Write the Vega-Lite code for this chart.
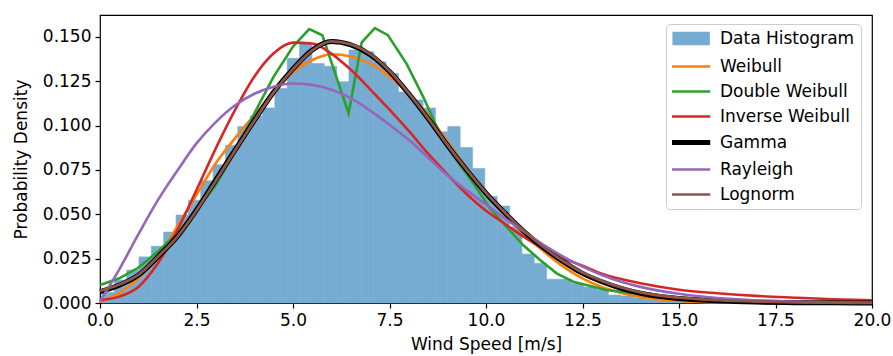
{
  "$schema": "https://vega.github.io/schema/vega-lite/v6.json",
  "width": 772,
  "height": 288,
  "autosize": {"type": "none"},
  "padding": {"left": 100, "top": 15, "right": 21, "bottom": 53},
  "background": "white",
  "config": {
    "font": "DejaVu Sans",
    "view": {"stroke": "#000000", "strokeWidth": 1.2},
    "axis": {
      "grid": false,
      "domain": false,
      "labelFlush": false,
      "labelOverlap": false,
      "tickColor": "#000000",
      "tickSize": 5,
      "tickWidth": 1.2,
      "labelColor": "#000000",
      "labelFontSize": 17,
      "labelFont": "DejaVu Sans",
      "titleColor": "#000000",
      "titleFontSize": 17,
      "titleFont": "DejaVu Sans",
      "titleFontWeight": "normal"
    }
  },
  "datasets": {
    "hist": [
      {"x0": 0.05, "x1": 0.37, "d": 0.006},
      {"x0": 0.37, "x1": 0.69, "d": 0.013},
      {"x0": 0.69, "x1": 1.01, "d": 0.0186},
      {"x0": 1.01, "x1": 1.33, "d": 0.026},
      {"x0": 1.33, "x1": 1.65, "d": 0.032},
      {"x0": 1.65, "x1": 1.97, "d": 0.040},
      {"x0": 1.97, "x1": 2.29, "d": 0.0496},
      {"x0": 2.29, "x1": 2.61, "d": 0.058},
      {"x0": 2.61, "x1": 2.93, "d": 0.069},
      {"x0": 2.93, "x1": 3.25, "d": 0.078},
      {"x0": 3.25, "x1": 3.57, "d": 0.089},
      {"x0": 3.57, "x1": 3.89, "d": 0.0995},
      {"x0": 3.89, "x1": 4.21, "d": 0.1055},
      {"x0": 4.21, "x1": 4.53, "d": 0.110},
      {"x0": 4.53, "x1": 4.85, "d": 0.121},
      {"x0": 4.85, "x1": 5.17, "d": 0.138},
      {"x0": 5.17, "x1": 5.49, "d": 0.1465},
      {"x0": 5.49, "x1": 5.81, "d": 0.135},
      {"x0": 5.81, "x1": 6.13, "d": 0.1335},
      {"x0": 6.13, "x1": 6.45, "d": 0.1248},
      {"x0": 6.45, "x1": 6.77, "d": 0.1427},
      {"x0": 6.77, "x1": 7.09, "d": 0.1417},
      {"x0": 7.09, "x1": 7.41, "d": 0.136},
      {"x0": 7.41, "x1": 7.73, "d": 0.1295},
      {"x0": 7.73, "x1": 8.05, "d": 0.119},
      {"x0": 8.05, "x1": 8.37, "d": 0.1145},
      {"x0": 8.37, "x1": 8.69, "d": 0.110},
      {"x0": 8.69, "x1": 9.01, "d": 0.0965},
      {"x0": 9.01, "x1": 9.33, "d": 0.0995},
      {"x0": 9.33, "x1": 9.65, "d": 0.0877},
      {"x0": 9.65, "x1": 9.97, "d": 0.0758},
      {"x0": 9.97, "x1": 10.29, "d": 0.060},
      {"x0": 10.29, "x1": 10.61, "d": 0.0547},
      {"x0": 10.61, "x1": 10.93, "d": 0.043},
      {"x0": 10.93, "x1": 11.25, "d": 0.0276},
      {"x0": 11.25, "x1": 11.57, "d": 0.0224},
      {"x0": 11.57, "x1": 11.89, "d": 0.0134},
      {"x0": 11.89, "x1": 12.21, "d": 0.0134},
      {"x0": 12.21, "x1": 12.53, "d": 0.011},
      {"x0": 12.53, "x1": 12.85, "d": 0.009},
      {"x0": 12.85, "x1": 13.17, "d": 0.0075},
      {"x0": 13.17, "x1": 13.49, "d": 0.0045},
      {"x0": 13.49, "x1": 13.81, "d": 0.004},
      {"x0": 13.81, "x1": 14.13, "d": 0.003},
      {"x0": 14.13, "x1": 14.45, "d": 0.002},
      {"x0": 14.45, "x1": 14.77, "d": 0.0015},
      {"x0": 14.77, "x1": 15.09, "d": 0.001},
      {"x0": 15.09, "x1": 15.41, "d": 0.0008},
      {"x0": 15.41, "x1": 15.73, "d": 0.0005},
      {"x0": 15.73, "x1": 16.05, "d": 0.0003}
    ],
    "curves": [
      {"s": "Weibull", "x": 0, "y": 0.0007},
      {"s": "Weibull", "x": 0.5, "y": 0.0056},
      {"s": "Weibull", "x": 1, "y": 0.014},
      {"s": "Weibull", "x": 1.5, "y": 0.026},
      {"s": "Weibull", "x": 2, "y": 0.043},
      {"s": "Weibull", "x": 2.5, "y": 0.061},
      {"s": "Weibull", "x": 3, "y": 0.0788},
      {"s": "Weibull", "x": 3.5, "y": 0.093},
      {"s": "Weibull", "x": 4, "y": 0.106},
      {"s": "Weibull", "x": 4.5, "y": 0.119},
      {"s": "Weibull", "x": 5, "y": 0.130},
      {"s": "Weibull", "x": 5.5, "y": 0.137},
      {"s": "Weibull", "x": 6, "y": 0.1403},
      {"s": "Weibull", "x": 6.5, "y": 0.139},
      {"s": "Weibull", "x": 7, "y": 0.135},
      {"s": "Weibull", "x": 7.5, "y": 0.1277},
      {"s": "Weibull", "x": 8, "y": 0.118},
      {"s": "Weibull", "x": 8.5, "y": 0.106},
      {"s": "Weibull", "x": 9, "y": 0.091},
      {"s": "Weibull", "x": 9.5, "y": 0.076},
      {"s": "Weibull", "x": 10, "y": 0.0619},
      {"s": "Weibull", "x": 10.5, "y": 0.0496},
      {"s": "Weibull", "x": 11, "y": 0.0384},
      {"s": "Weibull", "x": 11.5, "y": 0.029},
      {"s": "Weibull", "x": 12, "y": 0.0205},
      {"s": "Weibull", "x": 12.5, "y": 0.0139},
      {"s": "Weibull", "x": 13, "y": 0.009},
      {"s": "Weibull", "x": 13.5, "y": 0.0057},
      {"s": "Weibull", "x": 14, "y": 0.0034},
      {"s": "Weibull", "x": 15, "y": 0.0011},
      {"s": "Weibull", "x": 16, "y": 0.0003},
      {"s": "Weibull", "x": 17, "y": 0.0001},
      {"s": "Weibull", "x": 18, "y": 0.00002},
      {"s": "Weibull", "x": 20, "y": 0},
      {"s": "Double Weibull", "x": 0, "y": 0.0102},
      {"s": "Double Weibull", "x": 0.5, "y": 0.0139},
      {"s": "Double Weibull", "x": 1, "y": 0.020},
      {"s": "Double Weibull", "x": 1.5, "y": 0.029},
      {"s": "Double Weibull", "x": 2, "y": 0.0393},
      {"s": "Double Weibull", "x": 2.5, "y": 0.0525},
      {"s": "Double Weibull", "x": 3, "y": 0.0665},
      {"s": "Double Weibull", "x": 3.5, "y": 0.0853},
      {"s": "Double Weibull", "x": 4, "y": 0.107},
      {"s": "Double Weibull", "x": 4.5, "y": 0.1277},
      {"s": "Double Weibull", "x": 5, "y": 0.1446},
      {"s": "Double Weibull", "x": 5.42, "y": 0.1545},
      {"s": "Double Weibull", "x": 5.76, "y": 0.151},
      {"s": "Double Weibull", "x": 6.1, "y": 0.129},
      {"s": "Double Weibull", "x": 6.44, "y": 0.107},
      {"s": "Double Weibull", "x": 6.78, "y": 0.147},
      {"s": "Double Weibull", "x": 7.12, "y": 0.155},
      {"s": "Double Weibull", "x": 7.46, "y": 0.151},
      {"s": "Double Weibull", "x": 7.94, "y": 0.135},
      {"s": "Double Weibull", "x": 8.37, "y": 0.1164},
      {"s": "Double Weibull", "x": 8.8, "y": 0.0957},
      {"s": "Double Weibull", "x": 9.23, "y": 0.0807},
      {"s": "Double Weibull", "x": 9.67, "y": 0.0675},
      {"s": "Double Weibull", "x": 10.1, "y": 0.0534},
      {"s": "Double Weibull", "x": 10.53, "y": 0.043},
      {"s": "Double Weibull", "x": 10.96, "y": 0.0327},
      {"s": "Double Weibull", "x": 11.4, "y": 0.0243},
      {"s": "Double Weibull", "x": 11.83, "y": 0.0167},
      {"s": "Double Weibull", "x": 12.26, "y": 0.012},
      {"s": "Double Weibull", "x": 13.12, "y": 0.0073},
      {"s": "Double Weibull", "x": 14, "y": 0.0049},
      {"s": "Double Weibull", "x": 15, "y": 0.003},
      {"s": "Double Weibull", "x": 16, "y": 0.0018},
      {"s": "Double Weibull", "x": 17, "y": 0.001},
      {"s": "Double Weibull", "x": 18, "y": 0.0006},
      {"s": "Double Weibull", "x": 20, "y": 0.0002},
      {"s": "Inverse Weibull", "x": 0, "y": 0.0017},
      {"s": "Inverse Weibull", "x": 0.5, "y": 0.0036},
      {"s": "Inverse Weibull", "x": 1, "y": 0.0092},
      {"s": "Inverse Weibull", "x": 1.5, "y": 0.0224},
      {"s": "Inverse Weibull", "x": 2, "y": 0.041},
      {"s": "Inverse Weibull", "x": 2.5, "y": 0.0637},
      {"s": "Inverse Weibull", "x": 3, "y": 0.0872},
      {"s": "Inverse Weibull", "x": 3.5, "y": 0.1089},
      {"s": "Inverse Weibull", "x": 4, "y": 0.1277},
      {"s": "Inverse Weibull", "x": 4.5, "y": 0.1408},
      {"s": "Inverse Weibull", "x": 5, "y": 0.1468},
      {"s": "Inverse Weibull", "x": 5.5, "y": 0.1463},
      {"s": "Inverse Weibull", "x": 6, "y": 0.1405},
      {"s": "Inverse Weibull", "x": 6.5, "y": 0.1315},
      {"s": "Inverse Weibull", "x": 7, "y": 0.1205},
      {"s": "Inverse Weibull", "x": 7.5, "y": 0.109},
      {"s": "Inverse Weibull", "x": 8, "y": 0.097},
      {"s": "Inverse Weibull", "x": 8.5, "y": 0.0842},
      {"s": "Inverse Weibull", "x": 9, "y": 0.0725},
      {"s": "Inverse Weibull", "x": 9.5, "y": 0.0615},
      {"s": "Inverse Weibull", "x": 10, "y": 0.052},
      {"s": "Inverse Weibull", "x": 10.5, "y": 0.0445},
      {"s": "Inverse Weibull", "x": 11, "y": 0.037},
      {"s": "Inverse Weibull", "x": 11.5, "y": 0.0305},
      {"s": "Inverse Weibull", "x": 12, "y": 0.0252},
      {"s": "Inverse Weibull", "x": 12.5, "y": 0.021},
      {"s": "Inverse Weibull", "x": 13, "y": 0.0165},
      {"s": "Inverse Weibull", "x": 13.5, "y": 0.0135},
      {"s": "Inverse Weibull", "x": 14, "y": 0.0111},
      {"s": "Inverse Weibull", "x": 15, "y": 0.0075},
      {"s": "Inverse Weibull", "x": 16, "y": 0.0055},
      {"s": "Inverse Weibull", "x": 17, "y": 0.004},
      {"s": "Inverse Weibull", "x": 18, "y": 0.003},
      {"s": "Inverse Weibull", "x": 19, "y": 0.0021},
      {"s": "Inverse Weibull", "x": 20, "y": 0.0015},
      {"s": "Gamma", "x": 0, "y": 0.0064},
      {"s": "Gamma", "x": 0.5, "y": 0.0101},
      {"s": "Gamma", "x": 1, "y": 0.0158},
      {"s": "Gamma", "x": 1.5, "y": 0.0261},
      {"s": "Gamma", "x": 2, "y": 0.0374},
      {"s": "Gamma", "x": 2.5, "y": 0.0525},
      {"s": "Gamma", "x": 3, "y": 0.0694},
      {"s": "Gamma", "x": 3.5, "y": 0.0863},
      {"s": "Gamma", "x": 4, "y": 0.103},
      {"s": "Gamma", "x": 4.5, "y": 0.119},
      {"s": "Gamma", "x": 5, "y": 0.132},
      {"s": "Gamma", "x": 5.5, "y": 0.1427},
      {"s": "Gamma", "x": 6, "y": 0.1474},
      {"s": "Gamma", "x": 6.5, "y": 0.1455},
      {"s": "Gamma", "x": 7, "y": 0.140},
      {"s": "Gamma", "x": 7.5, "y": 0.1305},
      {"s": "Gamma", "x": 8, "y": 0.118},
      {"s": "Gamma", "x": 8.5, "y": 0.104},
      {"s": "Gamma", "x": 9, "y": 0.089},
      {"s": "Gamma", "x": 9.5, "y": 0.075},
      {"s": "Gamma", "x": 10, "y": 0.0619},
      {"s": "Gamma", "x": 10.5, "y": 0.0506},
      {"s": "Gamma", "x": 11, "y": 0.040},
      {"s": "Gamma", "x": 11.5, "y": 0.031},
      {"s": "Gamma", "x": 12, "y": 0.0233},
      {"s": "Gamma", "x": 12.5, "y": 0.0167},
      {"s": "Gamma", "x": 13, "y": 0.012},
      {"s": "Gamma", "x": 13.5, "y": 0.0083},
      {"s": "Gamma", "x": 14, "y": 0.0055},
      {"s": "Gamma", "x": 15, "y": 0.0025},
      {"s": "Gamma", "x": 16, "y": 0.0012},
      {"s": "Gamma", "x": 17, "y": 0.0005},
      {"s": "Gamma", "x": 18, "y": 0.0002},
      {"s": "Gamma", "x": 19, "y": 0.0001},
      {"s": "Gamma", "x": 20, "y": 0.00004},
      {"s": "Rayleigh", "x": 0, "y": 0.001},
      {"s": "Rayleigh", "x": 0.5, "y": 0.019},
      {"s": "Rayleigh", "x": 1, "y": 0.039},
      {"s": "Rayleigh", "x": 1.5, "y": 0.058},
      {"s": "Rayleigh", "x": 2, "y": 0.0745},
      {"s": "Rayleigh", "x": 2.5, "y": 0.09},
      {"s": "Rayleigh", "x": 3, "y": 0.102},
      {"s": "Rayleigh", "x": 3.5, "y": 0.1115},
      {"s": "Rayleigh", "x": 4, "y": 0.118},
      {"s": "Rayleigh", "x": 4.5, "y": 0.122},
      {"s": "Rayleigh", "x": 5, "y": 0.1238},
      {"s": "Rayleigh", "x": 5.5, "y": 0.123},
      {"s": "Rayleigh", "x": 6, "y": 0.1203},
      {"s": "Rayleigh", "x": 6.5, "y": 0.1155},
      {"s": "Rayleigh", "x": 7, "y": 0.1085},
      {"s": "Rayleigh", "x": 7.5, "y": 0.1005},
      {"s": "Rayleigh", "x": 8, "y": 0.092},
      {"s": "Rayleigh", "x": 8.5, "y": 0.082},
      {"s": "Rayleigh", "x": 9, "y": 0.072},
      {"s": "Rayleigh", "x": 9.5, "y": 0.0635},
      {"s": "Rayleigh", "x": 10, "y": 0.0555},
      {"s": "Rayleigh", "x": 10.5, "y": 0.0475},
      {"s": "Rayleigh", "x": 11, "y": 0.040},
      {"s": "Rayleigh", "x": 11.5, "y": 0.0327},
      {"s": "Rayleigh", "x": 12, "y": 0.0262},
      {"s": "Rayleigh", "x": 12.5, "y": 0.0205},
      {"s": "Rayleigh", "x": 13, "y": 0.0158},
      {"s": "Rayleigh", "x": 13.5, "y": 0.012},
      {"s": "Rayleigh", "x": 14, "y": 0.0091},
      {"s": "Rayleigh", "x": 15, "y": 0.0052},
      {"s": "Rayleigh", "x": 16, "y": 0.0028},
      {"s": "Rayleigh", "x": 17, "y": 0.0015},
      {"s": "Rayleigh", "x": 18, "y": 0.0007},
      {"s": "Rayleigh", "x": 19, "y": 0.0003},
      {"s": "Rayleigh", "x": 20, "y": 0.00015},
      {"s": "Lognorm", "x": 0, "y": 0.0068},
      {"s": "Lognorm", "x": 0.5, "y": 0.0104},
      {"s": "Lognorm", "x": 1, "y": 0.016},
      {"s": "Lognorm", "x": 1.5, "y": 0.0261},
      {"s": "Lognorm", "x": 2, "y": 0.0373},
      {"s": "Lognorm", "x": 2.5, "y": 0.0522},
      {"s": "Lognorm", "x": 3, "y": 0.069},
      {"s": "Lognorm", "x": 3.5, "y": 0.086},
      {"s": "Lognorm", "x": 4, "y": 0.1028},
      {"s": "Lognorm", "x": 4.5, "y": 0.1188},
      {"s": "Lognorm", "x": 5, "y": 0.1318},
      {"s": "Lognorm", "x": 5.5, "y": 0.1425},
      {"s": "Lognorm", "x": 6, "y": 0.1475},
      {"s": "Lognorm", "x": 6.5, "y": 0.1458},
      {"s": "Lognorm", "x": 7, "y": 0.1403},
      {"s": "Lognorm", "x": 7.5, "y": 0.1308},
      {"s": "Lognorm", "x": 8, "y": 0.1182},
      {"s": "Lognorm", "x": 8.5, "y": 0.1042},
      {"s": "Lognorm", "x": 9, "y": 0.0892},
      {"s": "Lognorm", "x": 9.5, "y": 0.0752},
      {"s": "Lognorm", "x": 10, "y": 0.0621},
      {"s": "Lognorm", "x": 10.5, "y": 0.0508},
      {"s": "Lognorm", "x": 11, "y": 0.0403},
      {"s": "Lognorm", "x": 11.5, "y": 0.0313},
      {"s": "Lognorm", "x": 12, "y": 0.0237},
      {"s": "Lognorm", "x": 12.5, "y": 0.0172},
      {"s": "Lognorm", "x": 13, "y": 0.0125},
      {"s": "Lognorm", "x": 13.5, "y": 0.0088},
      {"s": "Lognorm", "x": 14, "y": 0.006},
      {"s": "Lognorm", "x": 15, "y": 0.003},
      {"s": "Lognorm", "x": 16, "y": 0.0016},
      {"s": "Lognorm", "x": 17, "y": 0.0008},
      {"s": "Lognorm", "x": 18, "y": 0.0004},
      {"s": "Lognorm", "x": 19, "y": 0.0002},
      {"s": "Lognorm", "x": 20, "y": 0.0001}
    ]
  },
  "layer": [
    {
      "data": {"name": "hist"},
      "mark": {"type": "bar", "stroke": "#76acd2", "strokeWidth": 0.6},
      "encoding": {
        "x": {"field": "x0", "type": "quantitative"},
        "x2": {"field": "x1"},
        "y": {"field": "d", "type": "quantitative"},
        "y2": {"datum": 0},
        "color": {"datum": "Data Histogram", "type": "nominal"}
      }
    },
    {
      "data": {"name": "curves"},
      "transform": [{"filter": "datum.s === 'Weibull'"}],
      "mark": {"type": "line", "strokeWidth": 2.6, "interpolate": "monotone"},
      "encoding": {
        "x": {"field": "x", "type": "quantitative"},
        "y": {"field": "y", "type": "quantitative"},
        "color": {"field": "s", "type": "nominal"}
      }
    },
    {
      "data": {"name": "curves"},
      "transform": [{"filter": "datum.s === 'Double Weibull'"}],
      "mark": {"type": "line", "strokeWidth": 2.6, "interpolate": "linear"},
      "encoding": {
        "x": {"field": "x", "type": "quantitative"},
        "y": {"field": "y", "type": "quantitative"},
        "color": {"field": "s", "type": "nominal"}
      }
    },
    {
      "data": {"name": "curves"},
      "transform": [{"filter": "datum.s === 'Inverse Weibull'"}],
      "mark": {"type": "line", "strokeWidth": 2.6, "interpolate": "monotone"},
      "encoding": {
        "x": {"field": "x", "type": "quantitative"},
        "y": {"field": "y", "type": "quantitative"},
        "color": {"field": "s", "type": "nominal"}
      }
    },
    {
      "data": {"name": "curves"},
      "transform": [{"filter": "datum.s === 'Gamma'"}],
      "mark": {"type": "line", "strokeWidth": 5, "interpolate": "monotone"},
      "encoding": {
        "x": {"field": "x", "type": "quantitative"},
        "y": {"field": "y", "type": "quantitative"},
        "color": {"field": "s", "type": "nominal"}
      }
    },
    {
      "data": {"name": "curves"},
      "transform": [{"filter": "datum.s === 'Rayleigh'"}],
      "mark": {"type": "line", "strokeWidth": 2.6, "interpolate": "monotone"},
      "encoding": {
        "x": {"field": "x", "type": "quantitative"},
        "y": {"field": "y", "type": "quantitative"},
        "color": {"field": "s", "type": "nominal"}
      }
    },
    {
      "data": {"name": "curves"},
      "transform": [{"filter": "datum.s === 'Lognorm'"}],
      "mark": {"type": "line", "strokeWidth": 2.8, "interpolate": "monotone"},
      "encoding": {
        "x": {"field": "x", "type": "quantitative"},
        "y": {"field": "y", "type": "quantitative"},
        "color": {"field": "s", "type": "nominal"}
      }
    }
  ],
  "resolve": {"scale": {"color": "shared"}},
  "encoding": {
    "x": {
      "type": "quantitative",
      "scale": {"domain": [0, 20], "nice": false, "zero": false, "padding": 0},
      "axis": {"values": [0, 2.5, 5, 7.5, 10, 12.5, 15, 17.5, 20], "format": ".1f", "title": "Wind Speed [m/s]", "labelPadding": 4, "titlePadding": 8, "labelFlush": false}
    },
    "y": {
      "type": "quantitative",
      "scale": {"domain": [0, 0.1624], "nice": false, "zero": true, "padding": 0},
      "axis": {"values": [0, 0.025, 0.05, 0.075, 0.1, 0.125, 0.15], "format": ".3f", "title": "Probability Density", "labelPadding": 4, "titlePadding": 12, "labelFlush": false}
    },
    "color": {
      "type": "nominal",
      "scale": {
        "domain": ["Data Histogram", "Weibull", "Double Weibull", "Inverse Weibull", "Gamma", "Rayleigh", "Lognorm"],
        "range": ["#76acd2", "#ff7f0e", "#2ca02c", "#d62728", "#000000", "#9467bd", "#8c564b"]
      },
      "legend": {
        "title": null,
        "orient": "none",
        "legendX": 566,
        "legendY": 9,
        "padding": 6,
        "strokeColor": "#cccccc",
        "fillColor": "#ffffff",
        "cornerRadius": 4,
        "labelFont": "DejaVu Sans",
        "labelFontSize": 17,
        "labelColor": "#000000",
        "labelLimit": 300,
        "symbolSize": 289,
        "labelOffset": 31,
        "rowPadding": 7,
        "symbolStrokeWidth": 2.6,
        "encode": {
          "symbols": {
            "update": {
              "shape": {"signal": "datum.value === 'Data Histogram' ? 'M-0.8,-0.65H3.3V0.65H-0.8Z' : 'M-1,0H3.5'"},
              "fill": {"signal": "datum.value === 'Data Histogram' ? '#76acd2' : 'transparent'"},
              "fillOpacity": {"value": 1},
              "opacity": {"value": 1},
              "stroke": {"signal": "datum.value === 'Data Histogram' ? 'transparent' : scale('color', datum.value)"},
              "strokeWidth": {"signal": "datum.value === 'Gamma' ? 5 : 2.6"}
            }
          }
        }
      }
    }
  }
}
